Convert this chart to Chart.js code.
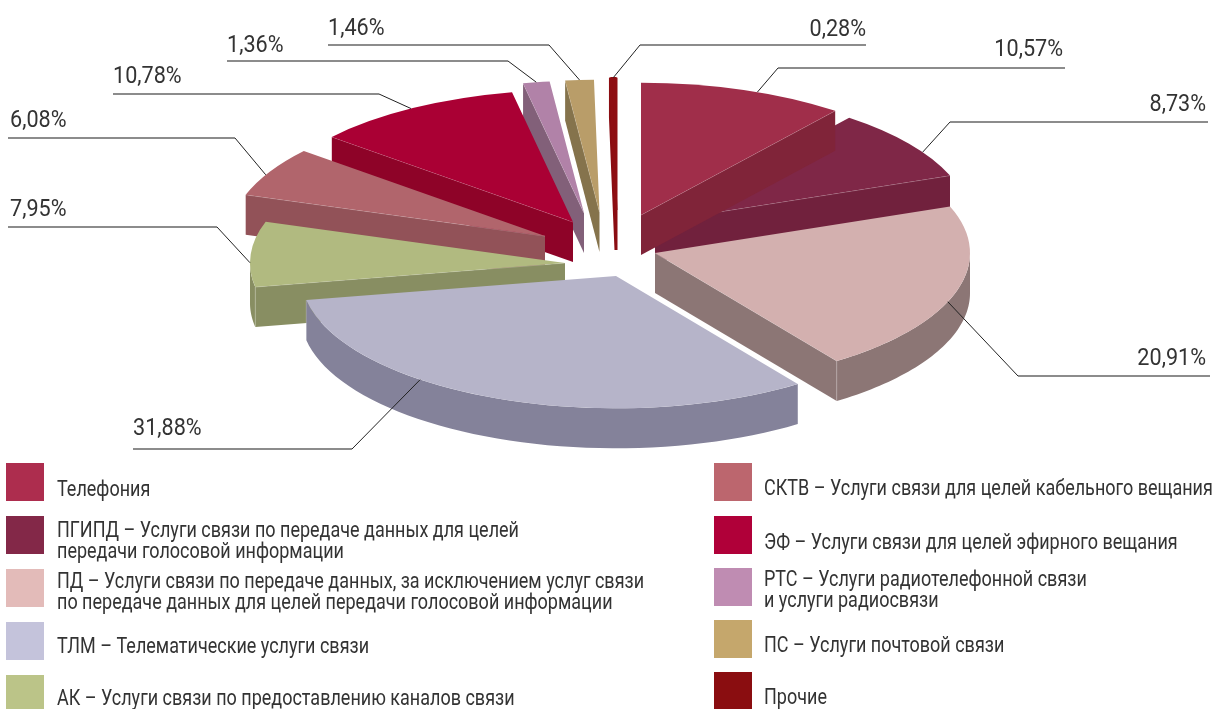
<!DOCTYPE html>
<html><head><meta charset="utf-8">
<script src="https://cdn.jsdelivr.net/npm/chart.js@4"></script>
<style>html,body{margin:0;padding:0;background:#fff}canvas{display:block}</style>
</head><body><canvas id="c" width="1214" height="709"></canvas>
<script>
// ---- data ----
const categories = ['Телефония','ПГИПД','ПД','ТЛМ','АК','СКТВ','ЭФ','РТС','ПС','Прочие'];
const values = [10.57,8.73,20.91,31.88,7.95,6.08,10.78,1.36,1.46,0.28];
const legendTexts = [
 ['Телефония'],
 ['ПГИПД – Услуги связи по передаче данных для целей','передачи голосовой информации'],
 ['ПД – Услуги связи по передаче данных, за исключением услуг связи','по передаче данных для целей передачи голосовой информации'],
 ['ТЛМ – Телематические услуги связи'],
 ['АК – Услуги связи по предоставлению каналов связи'],
 ['СКТВ – Услуги связи для целей кабельного вещания'],
 ['ЭФ – Услуги связи для целей эфирного вещания'],
 ['РТС – Услуги радиотелефонной связи','и услуги радиосвязи'],
 ['ПС – Услуги почтовой связи'],
 ['Прочие']
];
// ---- styles ----
const topColors  = ['#A02E4A','#7F2747','#D3B0AF','#B6B4C9','#B1BA80','#B1656C','#AA0034','#B182A8','#B99D69','#8E0E12'];
const wallColors = ['#802439','#71213D','#8C7675','#84829A','#888E62','#925258','#8E0328','#826079','#85734C','#8A0D12'];
const swatchColors = ['#AD2D4E','#832848','#E3BBB9','#C4C3DB','#BBC488','#BC666E','#B00039','#BF8CB2','#C5A76C','#8A0D10'];
const shiftX = [28,42,42,3,-48,-68,-40,-29,-13.5,3];
const shiftY = [-30,-23,8,31,18,-9,-23,-32,-33,-35];
const drawOrder = [1,0,2,9,8,7,6,5,4,3];
const squash = 0.42, depth = 40, RADIUS = 315;
const sliceBorder = [0,0,0,0,0,0,0,0,0,3];
// leader: fraction along the slice rim, elbow and line end; label text position
const leaders = [
 {f:.57,ex:778,ey:68,to:1065,tx:1063,ty:56,al:'right'},
 {f:.64,ex:950,ey:122,to:1208,tx:1206,ty:111,al:'right'},
 {f:.56,ex:1018,ey:376,to:1210,tx:1206,ty:365,al:'right'},
 {f:.642,ex:352,ey:449,to:133,tx:133,ty:435,al:'left'},
 {f:.37,ex:217,ey:227,to:8,tx:10,ty:216,al:'left'},
 {f:.43,ex:235,ey:138,to:8,tx:10,ty:127,al:'left'},
 {f:.49,ex:379,ey:94,to:113,tx:113,ty:83,al:'left'},
 {f:.5,ex:508,ey:61,to:227,tx:227,ty:52,al:'left'},
 {f:.5,ex:549,ey:45,to:328,tx:328,ty:35,al:'left'},
 {f:.5,ex:640,ey:45,to:866,tx:866,ty:36,al:'right'}
];
const legendPos = [
 {x:6,y:463,h:38,b:[496]},{x:6,y:516,h:38,b:[537,558]},{x:6,y:569,h:38,b:[588,609]},
 {x:6,y:622,h:38,b:[653]},{x:6,y:675,h:34,b:[705]},
 {x:714,y:463,h:38,b:[495]},{x:714,y:516,h:38,b:[549]},{x:714,y:568,h:38,b:[586,607]},
 {x:714,y:620,h:38,b:[652]},{x:714,y:672,h:37,b:[704]}
];
const FONT = 'Roboto,sans-serif';
const fmt = v => v.toFixed(2).replace('.',',') + '%';

// condensed text: the installed fonts have no narrow cut, so squeeze horizontally
function squeezedText(ctx,text,x,y,xs,align){
  ctx.save();ctx.translate(x,y);ctx.scale(xs,1);ctx.textAlign=align;ctx.textBaseline='alphabetic';
  ctx.fillText(text,0,0);ctx.restore();
}
function rim(arc,i,t){
  return {x:arc.x+shiftX[i]+RADIUS*Math.cos(t), y:arc.y+shiftY[i]+RADIUS*squash*Math.sin(t)};
}
function seam(ctx,x,y){
  ctx.beginPath();ctx.moveTo(x,y);ctx.lineTo(x,y+depth);ctx.strokeStyle='rgba(255,255,255,.3)';ctx.lineWidth=.7;ctx.stroke();
}
function drawWalls(ctx,arc,i){
  const a={x:arc.x+shiftX[i],y:arc.y+shiftY[i]};
  const s=arc.startAngle,e=arc.endAngle;
  const theta=t=>t+Math.PI/2;
  const quad=(p)=>{
    ctx.beginPath();ctx.moveTo(a.x,a.y);ctx.lineTo(p.x,p.y);ctx.lineTo(p.x,p.y+depth);ctx.lineTo(a.x,a.y+depth);ctx.closePath();
    ctx.fillStyle=wallColors[i];ctx.fill();
    if(sliceBorder[i]){ctx.strokeStyle=wallColors[i];ctx.lineWidth=sliceBorder[i];ctx.lineJoin='bevel';ctx.stroke();return;}
    ctx.beginPath();ctx.moveTo(a.x,a.y);ctx.lineTo(p.x,p.y);ctx.strokeStyle='rgba(255,255,255,.35)';ctx.lineWidth=.7;ctx.stroke();
  };
  if(Math.sin(theta(s))<-1e-6) quad(rim(arc,i,s));
  if(Math.sin(theta(e))>1e-6) quad(rim(arc,i,e));
  // outer wall: only the part of the rim that faces the viewer (lower half)
  const lo=Math.max(s,0),hi=Math.min(e,Math.PI);
  if(hi>lo){
    const pts=[];for(let k=0;k<=48;k++)pts.push(rim(arc,i,lo+(hi-lo)*k/48));
    ctx.beginPath();pts.forEach((p,k)=>k?ctx.lineTo(p.x,p.y):ctx.moveTo(p.x,p.y));
    pts.slice().reverse().forEach(p=>ctx.lineTo(p.x,p.y+depth));ctx.closePath();
    ctx.fillStyle=wallColors[i];ctx.fill();
    if(e<=Math.PI&&e>0){const c=rim(arc,i,e);seam(ctx,c.x,c.y);}
    if(s>=0&&s<Math.PI&&Math.sin(theta(s))<-1e-6){const c=rim(arc,i,s);seam(ctx,c.x,c.y);}
  }
}
const pie3d={id:'pie3d',
  beforeDatasetDraw(chart,args){
    const ctx=chart.ctx, arcs=args.meta.data;
    drawOrder.forEach(i=>{
      const arc=arcs[i];
      ctx.save();drawWalls(ctx,arc,i);ctx.restore();
      ctx.save();
      ctx.translate(arc.x+shiftX[i],arc.y+shiftY[i]);
      ctx.scale(1,squash);
      ctx.translate(-arc.x,-arc.y);
      arc.draw(ctx);
      ctx.restore();
    });
    return false;
  },
  afterDraw(chart){
    const ctx=chart.ctx, arcs=chart.getDatasetMeta(0).data;
    ctx.save();
    leaders.forEach((l,i)=>{
      const arc=arcs[i], p=rim(arc,i,arc.startAngle+(arc.endAngle-arc.startAngle)*l.f);
      ctx.beginPath();ctx.moveTo(p.x,p.y);ctx.lineTo(l.ex,l.ey);ctx.strokeStyle='#222';ctx.lineWidth=1;ctx.stroke();
      ctx.beginPath();ctx.moveTo(l.ex,l.ey);ctx.lineTo(l.to,l.ey);ctx.strokeStyle='#666';ctx.lineWidth=1.4;ctx.stroke();
      ctx.font='400 24px '+FONT;ctx.fillStyle='#333';
      squeezedText(ctx,fmt(values[i]),l.tx,l.ty,.9,l.al);
    });
    legendTexts.forEach((lines,i)=>{
      const q=legendPos[i];
      ctx.fillStyle=swatchColors[i];ctx.fillRect(q.x,q.y,38,q.h);
      ctx.font='400 22.5px '+FONT;ctx.fillStyle='#333';
      lines.forEach((t,k)=>squeezedText(ctx,t,q.x+(i<5?51:50),q.b[k],.8,'left'));
    });
    ctx.restore();
  }
};
new Chart(document.getElementById('c'),{
  type:'pie',
  data:{labels:categories,datasets:[{data:values,backgroundColor:topColors,borderColor:topColors,borderWidth:sliceBorder,borderJoinStyle:'bevel',clip:false}]},
  options:{responsive:false,animation:false,radius:RADIUS,rotation:0,
    layout:{padding:{left:12,bottom:219}},
    plugins:{legend:{display:false},tooltip:{enabled:false}}},
  plugins:[pie3d]
});
</script></body></html>
